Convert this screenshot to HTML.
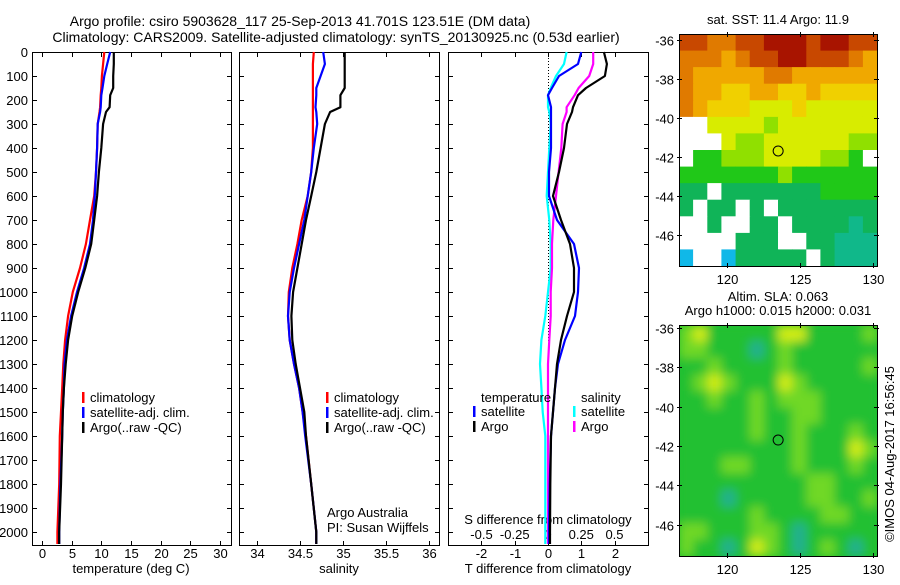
<!DOCTYPE html>
<html><head><meta charset="utf-8">
<style>
html,body{margin:0;padding:0;background:#fff;}
svg text{font-family:"Liberation Sans",sans-serif;font-size:13px;fill:#000;}
</style></head>
<body>
<svg id="c" width="900" height="580" viewBox="0 0 900 580">
<defs>
<filter id="blur" x="0" y="0" width="1" height="1"><feGaussianBlur stdDeviation="5"/></filter>
<clipPath id="clipSla"><rect x="679" y="325" width="198" height="231"/></clipPath>
</defs>
<text x="300" y="26" text-anchor="middle" style="font-size:14px">Argo profile: csiro 5903628_117 25-Sep-2013 41.701S 123.51E (DM data)</text>
<text x="336" y="42" text-anchor="middle" style="font-size:14px">Climatology: CARS2009. Satellite-adjusted climatology: synTS_20130925.nc (0.53d earlier)</text>
</svg>
<script>
// ---------- data ----------
const depths = [0,50,100,150,180,230,250,300,400,500,600,700,800,900,1000,1100,1200,1300,1400,1500,1600,1800,2000,2050];
const tempArgo = [12.1,12.1,12.0,12.0,11.5,11.4,10.8,10.3,10.0,9.6,9.3,8.8,8.3,7.3,6.1,5.1,4.4,4.0,3.7,3.5,3.4,3.2,2.9,2.9];
const tempClim = [10.5,10.3,10.1,10.0,9.9,9.8,9.7,9.4,9.3,9.1,8.8,8.1,7.4,6.4,5.2,4.4,3.9,3.6,3.4,3.2,3.0,2.9,2.6,2.6];
const tempSat  = [11.5,11.0,10.5,10.2,10.0,9.9,9.8,9.4,9.3,9.1,8.9,8.6,8.1,7.1,5.9,4.9,4.2,3.8,3.7,3.5,3.4,3.1,2.9,2.9];
const salArgo = [35.02,35.02,35.02,35.02,34.97,34.97,34.85,34.79,34.74,34.69,34.63,34.57,34.52,34.47,34.42,34.40,34.41,34.45,34.50,34.55,34.57,34.63,34.69,34.69];
const salClim = [34.66,34.65,34.65,34.65,34.65,34.65,34.65,34.65,34.65,34.63,34.59,34.52,34.47,34.41,34.37,34.36,34.38,34.43,34.49,34.53,34.57,34.63,34.69,34.69];
const salSat  = [34.77,34.79,34.74,34.69,34.69,34.68,34.69,34.70,34.66,34.63,34.59,34.55,34.49,34.43,34.38,34.36,34.38,34.43,34.49,34.53,34.56,34.63,34.69,34.69];
const dTSat  = [1.0,0.9,0.33,0.12,0.0,0.09,0.09,0.09,0.09,0.03,0.03,0.27,0.78,0.93,0.9,0.81,0.51,0.3,0.21,0.15,0.09,0.05,0.03,0.03];
const dTArgo = [1.68,1.77,1.71,1.14,0.9,0.75,0.72,0.57,0.48,0.33,0.15,0.39,0.66,0.78,0.78,0.57,0.39,0.27,0.21,0.15,0.09,0.07,0.06,0.06];
const dSSat  = [0.14,0.12,0.06,0.02,0.0,0.0,0.01,0.02,0.01,0.0,-0.01,0.01,0.02,0.02,0.0,-0.02,-0.05,-0.06,-0.05,-0.04,-0.02,-0.02,-0.02,-0.02];
const dSArgo = [0.34,0.34,0.31,0.23,0.2,0.14,0.14,0.11,0.1,0.08,0.06,0.04,0.03,0.03,0.02,0.02,0.01,0.0,0.0,0.0,0.0,0.0,0.0,0.0];
const depthTicks = [0,100,200,300,400,500,600,700,800,900,1000,1100,1200,1300,1400,1500,1600,1700,1800,1900,2000];
const tTicks = [0,5,10,15,20,25,30];
const sTicks = [34,34.5,35,35.5,36];
const dTTicks = [-2,-1,0,1,2];
const dSTicks = [-0.5,-0.25,0,0.25,0.5];
const dSTickLabels = ["-0.5","-0.25","0","0.25","0.5"];
const lonTicks = [120,125,130];
const latTicks = [-36,-38,-40,-42,-44,-46];
const argoLon = 123.51, argoLat = -41.701;
const sstGrid = [
[8,8,7,7,8,8,9,9,9,8,9,9,8,8],
[7,7,7,6,7,8,8,9,9,8,8,8,7,6],
[7,6,6,6,6,6,7,7,6,6,6,6,6,6],
[7,6,6,5,5,6,6,5,5,6,5,5,5,5],
[7,6,5,5,5,4,4,4,5,4,4,4,4,4],
[-1,-1,4,4,4,4,3,4,4,4,4,4,4,4],
[-1,-1,-1,4,3,3,4,4,4,4,4,4,3,3],
[-1,2,2,3,3,3,4,4,4,4,3,3,2,-1],
[2,2,2,2,2,2,2,3,2,2,2,2,2,2],
[1,1,-1,1,1,1,1,1,1,1,2,2,2,2],
[1,-1,1,1,-1,1,-1,1,1,1,1,1,1,1],
[-1,-1,1,-1,-1,1,1,-1,1,1,1,1,0,1],
[-1,-1,-1,-1,1,1,1,-1,-1,1,1,0,0,0],
[10,-1,-1,10,1,1,1,1,1,-1,1,0,0,0]];
const slaGrid = [
[2,3,1,1,1,1,1,3,3,1,1,1,1,2],
[2,2,1,1,1,0,1,2,1,1,1,1,1,1],
[1,1,2,1,1,1,1,2,1,1,1,1,1,2],
[1,2,3,2,1,1,1,3,2,1,1,1,1,1],
[1,1,2,1,1,2,1,2,2,2,1,1,1,1],
[1,1,1,1,1,2,1,1,2,2,1,1,1,1],
[1,1,1,1,1,2,1,1,2,1,1,1,2,1],
[1,1,1,1,1,1,1,1,2,1,1,1,3,2],
[1,1,1,2,2,1,1,1,2,1,1,1,2,1],
[1,1,1,1,1,1,1,1,1,2,2,1,1,1],
[1,1,1,0,1,1,1,1,1,2,2,1,1,2],
[1,1,1,1,1,2,1,1,1,1,2,2,1,1],
[2,2,1,1,1,2,2,1,0,1,1,1,1,1],
[2,1,1,0,1,3,2,1,0,1,2,1,0,1]];
// ---------- drawing ----------
const svg = document.getElementById('c');
const NS = 'http://www.w3.org/2000/svg';
function mk(tag, attrs, parent){const e=document.createElementNS(NS,tag);for(const k in attrs)e.setAttribute(k,attrs[k]);(parent||svg).appendChild(e);return e;}
function txt(x,y,s,anchor,parent){const t=mk('text',{x:x,y:y,'text-anchor':anchor||'start'},parent);t.textContent=s;return t;}
const yTop=52, yPx=0.24;
const yD = d => yTop + d*yPx;
const PB = 545;
const xT = v => 42 + 5.93*v;
const xS = v => 257 + 86*(v-34);
const xDT = v => 548 + 33.3*v;
const xDS = v => 548 + 133*v;

function frame(x0,x1,name){
  const g=mk('g',{});
  
  
  mk('rect',{x:x0+0.5,y:yTop+0.5,width:x1-x0,height:PB-yTop,fill:'none',stroke:'#000','stroke-width':1},g);
  depthTicks.forEach(d=>{const y=Math.round(yD(d))+0.5;
    mk('line',{x1:x0,x2:x0+5,y1:y,y2:y,stroke:'#000'},g);
    mk('line',{x1:x1-4,x2:x1+1,y1:y,y2:y,stroke:'#000'},g);});
  return g;
}
function xticks(g,ticks,f,labels,ly){
  ticks.forEach((v,i)=>{const x=Math.round(f(v))+0.5;
    mk('line',{x1:x,x2:x,y1:yTop,y2:yTop+5,stroke:'#000'},g);
    mk('line',{x1:x,x2:x,y1:PB-4,y2:PB+1,stroke:'#000'},g);
    if(labels){txt(x,ly,labels[i],'middle',g);}
  });
}
function line(vals,f,color,name,w){
  const pts=vals.map((v,i)=>f(v).toFixed(1)+','+yD(depths[i]).toFixed(1));
  const p=mk('polyline',{points:pts.join(' '),fill:'none',stroke:color,'stroke-width':w||2.2,'stroke-linejoin':'round'});
  
  
}
const g1=frame(32,231,'temperature-panel');
depthTicks.forEach(d=>{txt(28,yD(d)+5,String(d),'end',g1);});
xticks(g1,tTicks,xT,tTicks.map(String),558);
txt(131,573,'temperature (deg C)','middle',g1);
line(tempClim,xT,'#f00','temp-climatology-line');
line(tempSat,xT,'#00f','temp-satellite-line');
line(tempArgo,xT,'#000','temp-argo-line');
const g2=frame(239,439,'salinity-panel');
xticks(g2,sTicks,xS,sTicks.map(String),558);
txt(339,573,'salinity','middle',g2);
line(salClim,xS,'#f00','sal-climatology-line');
line(salSat,xS,'#00f','sal-satellite-line');
line(salArgo,xS,'#000','sal-argo-line');
txt(327,517,'Argo Australia','start',g2);
txt(327,532,'PI: Susan Wijffels','start',g2);
const g3=frame(448,648,'difference-panel');
xticks(g3,dTTicks,xDT,dTTicks.map(String),558);
dSTicks.forEach((v,i)=>{txt(xDS(v),539,dSTickLabels[i],'middle',g3);});
txt(548,524,'S difference from climatology','middle',g3);
txt(548,573,'T difference from climatology','middle',g3);
mk('line',{x1:548.5,x2:548.5,y1:yTop,y2:PB,stroke:'#000','stroke-dasharray':'1,2'},g3);
line(dSSat,xDS,'#0ff','sal-diff-satellite-line');
line(dSArgo,xDS,'#f0f','sal-diff-argo-line');
line(dTSat,xDT,'#00f','temp-diff-satellite-line');
line(dTArgo,xDT,'#000','temp-diff-argo-line');
function legend(items,x,y0,name){
  const g=mk('g',{});
  
  
  items.forEach((it,i)=>{const y=y0+i*15;
    if(it[1]) mk('rect',{x:x,y:y-10,width:2.5,height:11,fill:it[1]},g);
    txt(x+(it[1]?8:0),y,it[0],'start',g);});
}
legend([['climatology','#f00'],['satellite-adj. clim.','#00f'],['Argo(..raw -QC)','#000']],82,402,'temperature-legend');
legend([['climatology','#f00'],['satellite-adj. clim.','#00f'],['Argo(..raw -QC)','#000']],326,402,'salinity-legend');
txt(481,402,'temperature','start');
legend([['satellite','#00f'],['Argo','#000']],473,416,'temp-diff-legend');
txt(581,402,'salinity','start');
legend([['satellite','#0ff'],['Argo','#f0f']],573,416,'sal-diff-legend');
const sstColors={'-1':'#fff','0':'#10b88a','1':'#10b458','2':'#20c818','3':'#90e000','4':'#d8ec00','5':'#f0d000','6':'#f0a800','7':'#e07a00','8':'#c84800','9':'#a81400','10':'#10b8e8'};
const slaColors={'0':'#20b090','1':'#20c030','2':'#70d828','3':'#d0ec18'};
function map(y0,y1,grid,colors,name,latTop,latBot,smooth){
  const x0=679,x1=877;
  const lonF=v=>679+(v-116.7)*(198/13.6);
  const latF=v=>y0+(latTop-v)*((y1-y0)/(latTop-latBot));
  const g=mk('g',{});
  
  
  let cg=g;
  if(smooth){const outer=mk('g',{'clip-path':'url(#clipSla)'},g);mk('rect',{x:x0,y:y0,width:x1-x0,height:y1-y0,fill:colors[1]},outer);cg=mk('g',{filter:'url(#blur)'},outer);}
  const rows=grid.length, cols=grid[0].length, cw=(x1-x0)/cols, ch=(y1-y0)/rows;
  grid.forEach((r,i)=>r.forEach((v,j)=>{
    mk('rect',{x:(x0+j*cw).toFixed(1),y:(y0+i*ch).toFixed(1),width:(cw+0.6).toFixed(1),height:(ch+0.6).toFixed(1),fill:colors[v]},cg);}));
  mk('rect',{x:x0+0.5,y:y0+0.5,width:x1-x0,height:y1-y0,fill:'none',stroke:'#000'},g);
  lonTicks.forEach(v=>{const x=Math.round(lonF(v))+0.5;
    mk('line',{x1:x,x2:x,y1:y0-2,y2:y0+3,stroke:'#000'},g);
    mk('line',{x1:x,x2:x,y1:y1-3,y2:y1+2,stroke:'#000'},g);
    txt(x,y1+18,String(v),'middle',g);});
  latTicks.forEach(v=>{const y=Math.round(latF(v))+0.5;
    mk('line',{x1:x0-2,x2:x0+3,y1:y,y2:y,stroke:'#000'},g);
    mk('line',{x1:x1-3,x2:x1+2,y1:y,y2:y,stroke:'#000'},g);
    txt(674,y+5,String(v),'end',g);});
  const c=mk('circle',{cx:lonF(argoLon),cy:latF(argoLat),r:5,fill:'none',stroke:'#000'},g);
  
  
}
map(34,266,sstGrid,sstColors,'sst-map',-35.7,-47.6,false);
map(325,556,slaGrid,slaColors,'sla-map',-35.85,-47.6,true);
txt(778,24,'sat. SST: 11.4  Argo: 11.9','middle');
txt(778,301,'Altim. SLA: 0.063','middle');
txt(778,315,'Argo h1000: 0.015 h2000: 0.031','middle');
const ts=txt(0,0,'©IMOS 04-Aug-2017 16:56:45','middle');
ts.setAttribute('transform','translate(894,454) rotate(-90)');


</script>
</body></html>
